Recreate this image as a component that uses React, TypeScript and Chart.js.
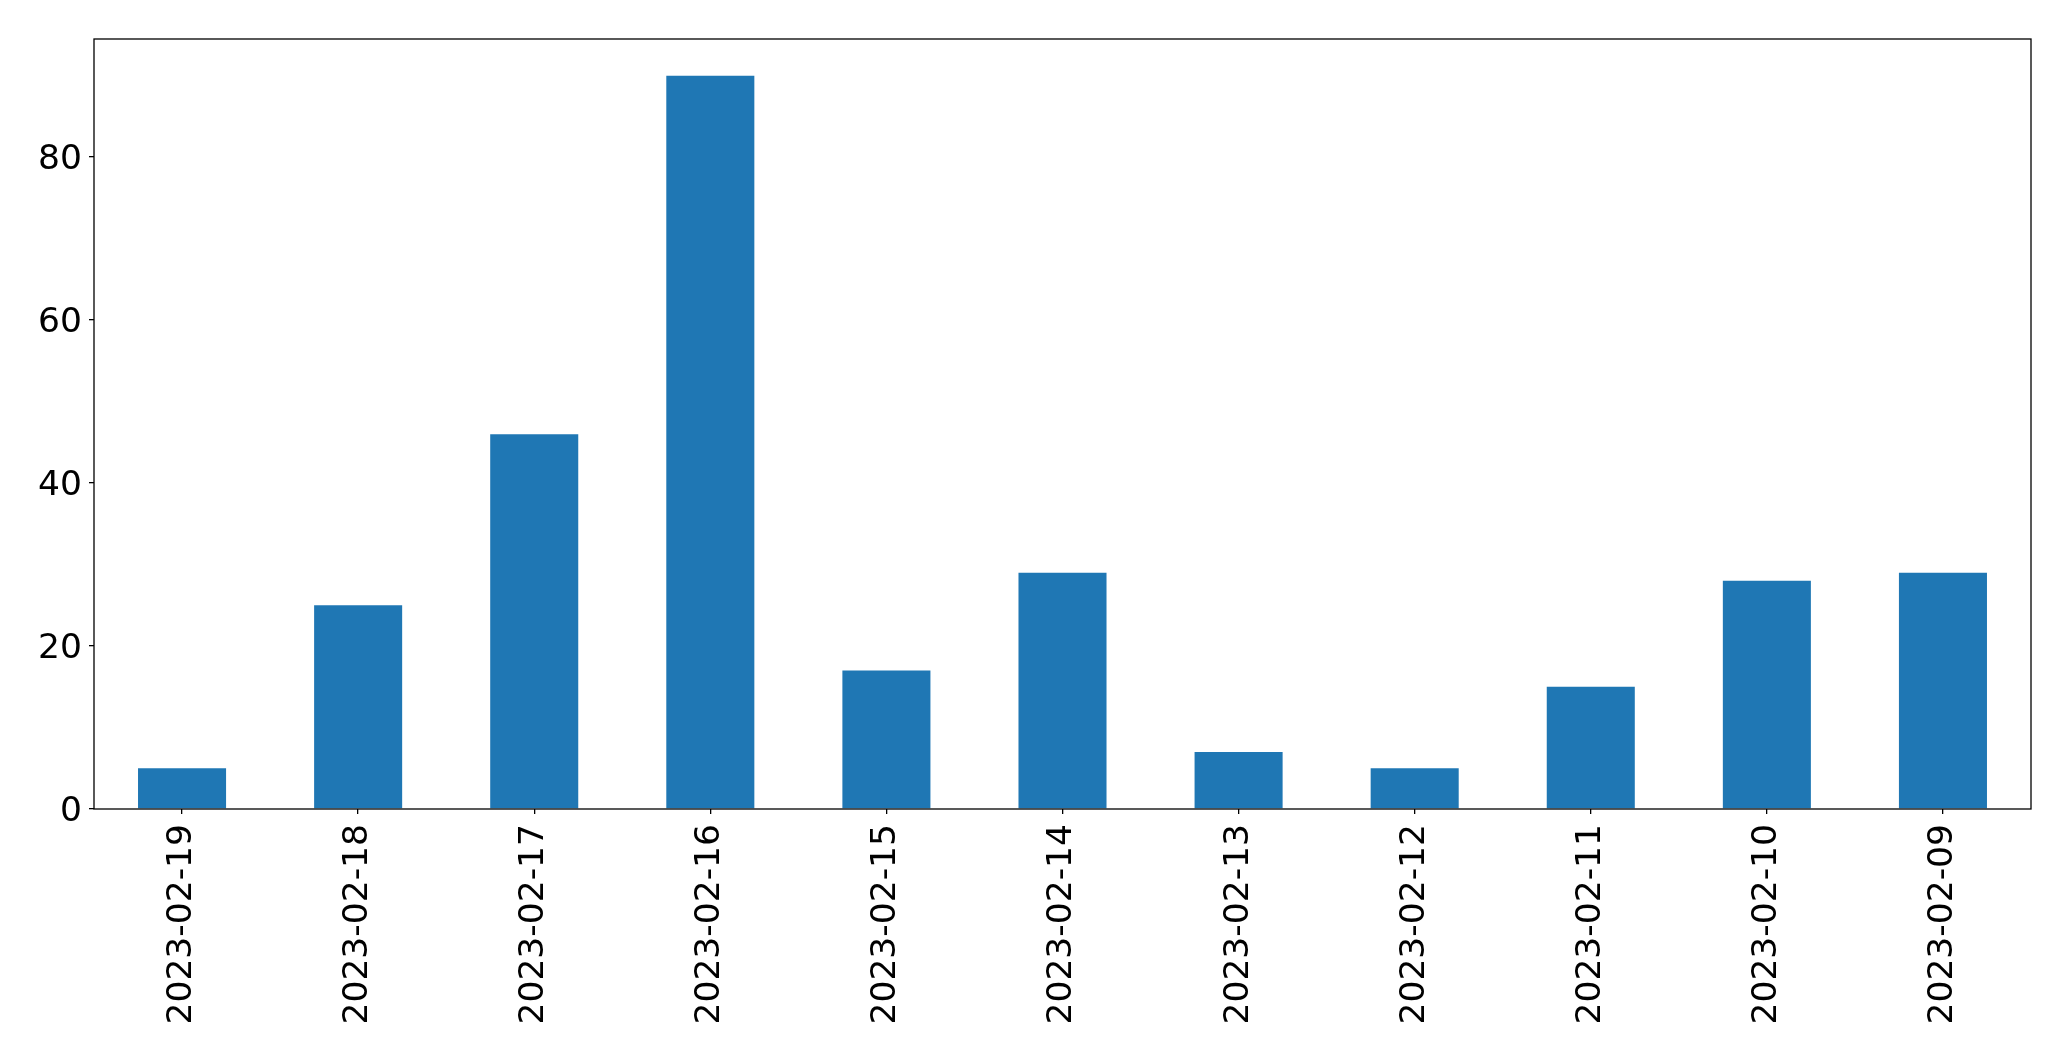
import React, { useEffect, useRef } from "react";
import { Chart, registerables } from "chart.js";

Chart.register(...registerables);

const categories = [
  "2023-02-19",
  "2023-02-18",
  "2023-02-17",
  "2023-02-16",
  "2023-02-15",
  "2023-02-14",
  "2023-02-13",
  "2023-02-12",
  "2023-02-11",
  "2023-02-10",
  "2023-02-09",
];
const values = [5, 25, 46, 90, 17, 29, 7, 5, 15, 28, 29];
const yTicks = [0, 20, 40, 60, 80];

const W = 2071;
const H = 1061;

const framePlugin = {
  id: "frame",
  afterDraw(chart: any) {
    const { ctx, chartArea } = chart;
    ctx.save();
    ctx.strokeStyle = "#000";
    ctx.lineWidth = 1.3;
    ctx.strokeRect(chartArea.left, chartArea.top, chartArea.right - chartArea.left, chartArea.bottom - chartArea.top);
    ctx.restore();
  },
};

export default function App() {
  const ref = useRef<HTMLCanvasElement>(null);
  useEffect(() => {
    if (!ref.current) return;
    const font = { family: "'DejaVu Sans', sans-serif", size: 34.5 };
    const chart = new Chart(ref.current, {
      type: "bar",
      data: {
        labels: categories,
        datasets: [
          {
            data: values,
            backgroundColor: "#1f77b4",
            barPercentage: 0.5,
            categoryPercentage: 1,
          },
        ],
      },
      options: {
        responsive: false,
        animation: false,
        devicePixelRatio: 1,
        layout: { padding: { top: 39, right: 40, left: 0, bottom: 0 } },
        plugins: { legend: { display: false }, tooltip: { enabled: false } },
        scales: {
          x: {
            offset: true,
            grid: { display: true, offset: false, drawOnChartArea: false, drawTicks: true, tickLength: 5, color: "#000", lineWidth: 1.3 },
            border: { display: false },
            ticks: { color: "#000", font, maxRotation: 90, minRotation: 90, padding: 10, autoSkip: false },
            afterFit(scale: any) {
              scale.height = H - 809;
            },
          },
          y: {
            min: 0,
            max: 94.5,
            afterBuildTicks(scale: any) {
              scale.ticks = yTicks.map((v) => ({ value: v }));
            },
            grid: { display: true, drawOnChartArea: false, drawTicks: true, tickLength: 5, color: "#000", lineWidth: 1.3 },
            border: { display: false },
            ticks: { color: "#000", font, padding: 7, labelOffset: 3 },
            afterFit(scale: any) {
              scale.width = 94;
            },
          },
        },
      },
      plugins: [framePlugin],
    });
    return () => chart.destroy();
  }, []);
  return (
    <div style={{ position: "fixed", left: 0, top: 0, width: W, height: H, background: "#fff" }}>
      <canvas ref={ref} width={W} height={H} style={{ width: W, height: H, display: "block" }} />
    </div>
  );
}
